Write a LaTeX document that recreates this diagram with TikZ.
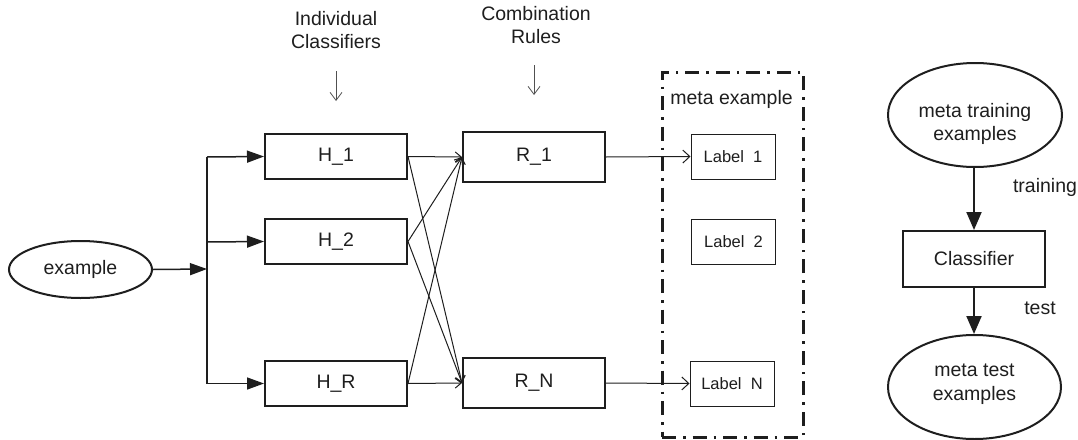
\documentclass[tikz,border=0pt]{standalone}
\usepackage{fontspec}
\setmainfont{Liberation Sans}
\usetikzlibrary{arrows.meta,shapes.geometric}
\definecolor{ink}{HTML}{1E1E1E}
\definecolor{soft}{HTML}{505050}
\begin{document}
\begin{tikzpicture}[x=1pt,y=-1pt,
  font=\fontsize{19.5}{23.5}\selectfont,
  every node/.style={text=ink},
  hbox/.style={draw=ink, line width=2pt, minimum width=142pt, minimum height=45pt, inner sep=0pt},
  rbox/.style={hbox, minimum height=50pt},
  lbox/.style={draw=ink, line width=1pt, minimum width=84pt, minimum height=45pt, inner sep=0pt,
    font=\fontsize{16.5}{20}\selectfont},
  cbox/.style={draw=ink, line width=2pt, minimum width=142pt, minimum height=56pt, inner sep=0pt},
  oval/.style={draw=ink, ellipse, line width=2pt, inner sep=0pt},
  heading/.style={align=center, inner sep=0pt},
  feed/.style={draw=ink, line width=1.5pt, -{Triangle[length=17pt,width=12pt]}},
  bigfeed/.style={draw=ink, line width=2pt, -{Triangle[length=18pt,width=15pt]}},
  wire/.style={draw=ink, line width=1pt, -{Straight Barb[length=6pt,width=10pt]}},
  outwire/.style={draw=ink, line width=1pt, -{Straight Barb[length=7pt,width=13pt]}},
  hint/.style={draw=soft, line width=0.8pt, -{Straight Barb[length=8pt,width=12pt]}},
  metabox/.style={draw=ink, line width=3pt, dash pattern=on 14pt off 7pt on 2.5pt off 7pt, inner sep=0pt}
]
\useasboundingbox (0,0) rectangle (1078,439);

% column headings
\node[heading] (hdrH) at (336,30) {Individual\\Classifiers};
\node[heading] (hdrR) at (536,25) {Combination\\Rules};
\coordinate (hHa) at (336,71);  \coordinate (hHb) at (336,101);
\coordinate (hRa) at (534,65);  \coordinate (hRb) at (534,95);
\draw[hint] (hHa) -- (hHb);
\draw[hint] (hRa) -- (hRb);

% input and fan-out
\node[oval, minimum width=143pt, minimum height=57pt] (ex) at (80.5,269.5) {example};
\coordinate (tj) at (207,269);
\coordinate (t1) at (207,157);
\coordinate (t2) at (207,242);
\coordinate (tr) at (207,383.5);
\draw[feed] (ex.east) -- (tj);
\draw[draw=ink, line width=1.5pt] (t1) -- (tr);

% individual classifiers
\node[hbox] (h1) at (336,156.5) {H\_1};
\node[hbox] (h2) at (336,241.5) {H\_2};
\node[hbox] (hr) at (336,383.5) {H\_R};
\draw[feed] (t1) -- (h1.west);
\draw[feed] (t2) -- (h2.west);
\draw[feed] (tr) -- (hr.west);

% combination rules
\node[rbox] (r1) at (534,157) {R\_1};
\node[rbox] (rn) at (534,383) {R\_N};
\foreach \h in {h1,h2,hr}{
  \draw[wire] (\h.east) -- (r1.west);
  \draw[wire] (\h.east) -- (rn.west);
}

% meta example
\node[metabox, minimum width=141pt, minimum height=365pt] (meta) at (732.5,254.5) {};
\node[inner sep=0pt] (metat) at (731.5,99) {meta example};
\node[lbox] (l1) at (733,156.5) {Label\ \ 1};
\node[lbox] (l2) at (733.5,241.5) {Label\ \ 2};
\node[lbox] (ln) at (732,383.5) {Label\ \ N};
\draw[outwire] (r1.east) -- (l1.west);
\draw[outwire] (rn.east) -- (ln.west);

% meta-level classifier
\node[oval, minimum width=174pt, minimum height=104pt] (mtr) at (975,115) {};
\node[heading] (mtrt) at (975,124) {meta training\\examples};
\node[cbox] (cl) at (974,259) {Classifier};
\node[oval, minimum width=173pt, minimum height=104pt] (mte) at (974.5,387) {};
\node[heading] (mtet) at (974.5,384) {meta test\\examples};
\draw[bigfeed] (mtr.south -| cl.north) -- (cl.north);
\draw[bigfeed] (cl.south) -- (mte.north -| cl.south);
\node[inner sep=0pt] (trn) at (1045,187) {training};
\node[inner sep=0pt] (tst) at (1040,308) {test};
\end{tikzpicture}
\end{document}
